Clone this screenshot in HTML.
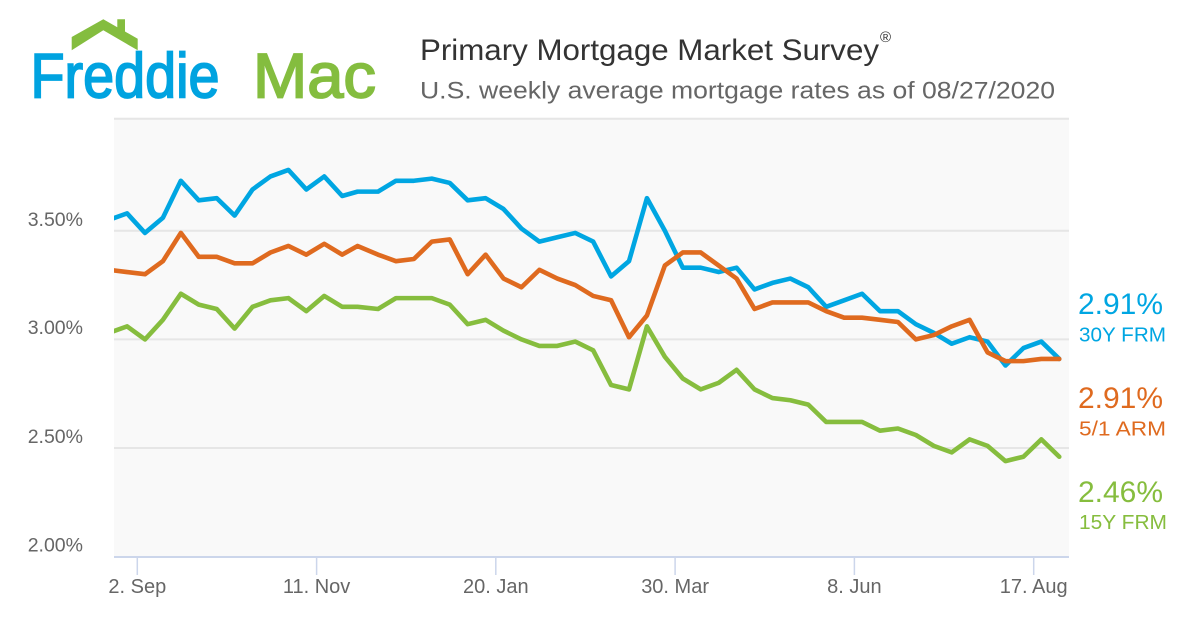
<!DOCTYPE html>
<html>
<head>
<meta charset="utf-8">
<style>
html,body{margin:0;padding:0;background:#fff;}
body{width:1200px;height:630px;overflow:hidden;}
svg{display:block;font-family:"Liberation Sans",Arial,sans-serif;}
</style>
</head>
<body>
<svg width="1200" height="630" viewBox="0 0 1200 630" xmlns="http://www.w3.org/2000/svg">
  <rect x="0" y="0" width="1200" height="630" fill="#ffffff"/>

  <!-- Logo -->
  <polygon points="71.7,50.3 71.7,37 103.3,19.3 117.3,27.2 117.3,19.3 125,19.3 125,31.5 137.7,38.7 137.7,50.3 103.3,30.3" fill="#84bd3f"/>
  <text x="30.5" y="97.5" font-size="63" fill="#00a3e0" stroke="#00a3e0" stroke-width="1.8" textLength="189" lengthAdjust="spacingAndGlyphs">Freddie</text>
  <text x="253" y="97.5" font-size="63" fill="#84bd3f" stroke="#84bd3f" stroke-width="1.8" textLength="123" lengthAdjust="spacingAndGlyphs">Mac</text>

  <!-- Titles -->
  <text x="420" y="60" font-size="30" fill="#333333" textLength="459" lengthAdjust="spacingAndGlyphs">Primary Mortgage Market Survey</text>
  <text x="880" y="42" font-size="15" fill="#333333">®</text>
  <text x="420" y="98.5" font-size="24.5" fill="#666666" textLength="635" lengthAdjust="spacingAndGlyphs">U.S. weekly average mortgage rates as of 08/27/2020</text>

  <!-- Plot area -->
  <rect x="114" y="119" width="955" height="438" fill="#f9f9f9"/>
  <g stroke="#e6e6e6" stroke-width="2">
    <line x1="114" y1="118.7" x2="1069" y2="118.7"/>
    <line x1="114" y1="230.7" x2="1069" y2="230.7"/>
    <line x1="114" y1="339.4" x2="1069" y2="339.4"/>
    <line x1="114" y1="448" x2="1069" y2="448"/>
  </g>
  <line x1="114" y1="557" x2="1069" y2="557" stroke="#ccd6eb" stroke-width="2"/>
  <g stroke="#ccd6eb" stroke-width="1.5">
    <line x1="137.3" y1="557" x2="137.3" y2="575"/>
    <line x1="316.6" y1="557" x2="316.6" y2="575"/>
    <line x1="495.8" y1="557" x2="495.8" y2="575"/>
    <line x1="675.1" y1="557" x2="675.1" y2="575"/>
    <line x1="854.4" y1="557" x2="854.4" y2="575"/>
    <line x1="1033.7" y1="557" x2="1033.7" y2="575"/>
  </g>

  <!-- Y axis labels -->
  <g font-size="19.5" fill="#666666" text-anchor="end">
    <text x="83" y="226">3.50%</text>
    <text x="83" y="334">3.00%</text>
    <text x="83" y="443">2.50%</text>
    <text x="83" y="551.5">2.00%</text>
  </g>

  <!-- X axis labels -->
  <g font-size="20" fill="#666666" text-anchor="middle">
    <text x="137.3" y="593">2. Sep</text>
    <text x="316.6" y="593">11. Nov</text>
    <text x="495.8" y="593">20. Jan</text>
    <text x="675.1" y="593">30. Mar</text>
    <text x="854.4" y="593">8. Jun</text>
    <text x="1033.7" y="593">17. Aug</text>
  </g>

  <defs>
    <clipPath id="plotclip" clipPathUnits="userSpaceOnUse">
      <rect x="114" y="100" width="955" height="460"/>
    </clipPath>
  </defs>

  <g clip-path="url(#plotclip)">
    <g transform="matrix(2.561 0 0 -217.3 137.3 991.3)" fill="none" stroke-width="4.6" stroke-linejoin="round" stroke-linecap="round">
      <!-- 15Y FRM -->
      <polyline vector-effect="non-scaling-stroke" stroke="#86bd3e" points="-11,3.03 -4,3.06 3,3.00 10,3.09 17,3.21 24,3.16 31,3.14 38,3.05 45,3.15 52,3.18 59,3.19 66,3.13 73,3.20 80,3.15 86,3.15 94,3.14 101,3.19 108,3.19 115,3.19 122,3.16 129,3.07 136,3.09 143,3.04 150,3.00 157,2.97 164,2.97 171,2.99 178,2.95 185,2.79 192,2.77 199,3.06 206,2.92 213,2.82 220,2.77 227,2.80 234,2.86 241,2.77 248,2.73 255,2.72 262,2.70 269,2.62 276,2.62 283,2.62 290,2.58 297,2.59 304,2.56 311,2.51 318,2.48 325,2.54 332,2.51 339,2.44 346,2.46 353,2.54 360,2.46"/>
      <!-- 30Y FRM -->
      <polyline vector-effect="non-scaling-stroke" stroke="#00a6e2" points="-11,3.55 -4,3.58 3,3.49 10,3.56 17,3.73 24,3.64 31,3.65 38,3.57 45,3.69 52,3.75 59,3.78 66,3.69 73,3.75 80,3.66 86,3.68 94,3.68 101,3.73 108,3.73 115,3.74 122,3.72 129,3.64 136,3.65 143,3.60 150,3.51 157,3.45 164,3.47 171,3.49 178,3.45 185,3.29 192,3.36 199,3.65 206,3.50 213,3.33 220,3.33 227,3.31 234,3.33 241,3.23 248,3.26 255,3.28 262,3.24 269,3.15 276,3.18 283,3.21 290,3.13 297,3.13 304,3.07 311,3.03 318,2.98 325,3.01 332,2.99 339,2.88 346,2.96 353,2.99 360,2.91"/>
      <!-- 5/1 ARM -->
      <polyline vector-effect="non-scaling-stroke" stroke="#df6a1f" points="-11,3.32 -4,3.31 3,3.30 10,3.36 17,3.49 24,3.38 31,3.38 38,3.35 45,3.35 52,3.40 59,3.43 66,3.39 73,3.44 80,3.39 86,3.43 94,3.39 101,3.36 108,3.37 115,3.45 122,3.46 129,3.30 136,3.39 143,3.28 150,3.24 157,3.32 164,3.28 171,3.25 178,3.20 185,3.18 192,3.01 199,3.11 206,3.34 213,3.40 220,3.40 227,3.34 234,3.28 241,3.14 248,3.17 255,3.17 262,3.17 269,3.13 276,3.10 283,3.10 290,3.09 297,3.08 304,3.00 311,3.02 318,3.06 325,3.09 332,2.94 339,2.90 346,2.90 353,2.91 360,2.91"/>
    </g>
  </g>

  <!-- Right-side value labels -->
  <g>
    <text x="1078" y="314" font-size="30" fill="#00a6e2" textLength="85" lengthAdjust="spacingAndGlyphs">2.91%</text>
    <text x="1079" y="341.5" font-size="20" fill="#00a6e2" textLength="87" lengthAdjust="spacingAndGlyphs">30Y FRM</text>
    <text x="1078" y="408" font-size="30" fill="#df6a1f" textLength="85" lengthAdjust="spacingAndGlyphs">2.91%</text>
    <text x="1079" y="435.5" font-size="20" fill="#df6a1f" textLength="87" lengthAdjust="spacingAndGlyphs">5/1 ARM</text>
    <text x="1078" y="502" font-size="30" fill="#86bd3e" textLength="85" lengthAdjust="spacingAndGlyphs">2.46%</text>
    <text x="1079" y="529" font-size="20" fill="#86bd3e" textLength="88" lengthAdjust="spacingAndGlyphs">15Y FRM</text>
  </g>
</svg>
</body>
</html>
